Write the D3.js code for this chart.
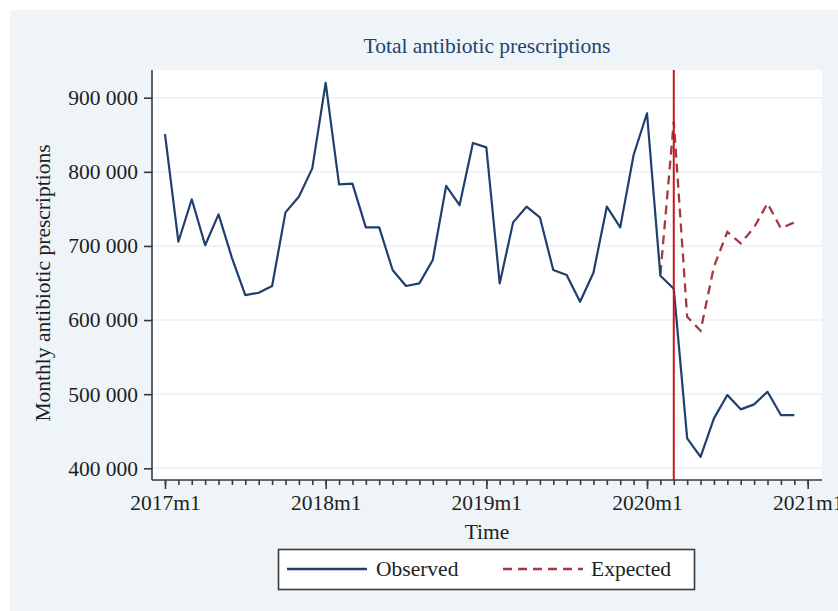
<!DOCTYPE html>
<html>
<head>
<meta charset="utf-8">
<script src="https://cdn.jsdelivr.net/npm/d3@7"></script>
<style>
  html, body { margin: 0; padding: 0; background: #fff; }
  text { font-family: "Liberation Serif", "DejaVu Serif", serif; }
</style>
</head>
<body>
<div class="chart"></div>
<script>
// chart data
var years = [2017, 2018, 2019, 2020];
var months = [];
years.forEach(function (y) {
  for (var m = 1; m <= 12; m++) months.push(y + "m" + m);
});
var xTickLabels = ["2017m1", "2018m1", "2019m1", "2020m1", "2021m1"];
var yTicks = [400000, 500000, 600000, 700000, 800000, 900000];

var observed = [
  851000, 705700, 763000, 701000, 742600, 684000, 633700, 636900, 646000, 745300, 766400, 804700,
  920000, 783000, 784000, 725000, 725000, 667500, 646000, 649500, 681000, 781000, 755000, 839000,
  833000, 649500, 731800, 753000, 738600, 667500, 660700, 624700, 663800, 753000, 725000, 822700,
  879000, 659800, 642200, 440400, 415500, 467300, 498800, 479500, 486200, 503200, 471800, 471800
];
var expectedStart = "2020m2";
var expected = [662000, 867600, 604500, 585600, 672000, 719000, 703500, 725000, 757500, 723700, 731800];
var interruption = "2020m3";

var svgWidth = 838;
var svgHeight = 611;
var plot = { left: 152, right: 822, top: 70, bottom: 480 };
var fontSize = "21.5px";

var svg = d3.select(".chart")
  .append("svg")
  .attr("width", svgWidth)
  .attr("height", svgHeight);

// graph background
svg.append("rect")
  .attr("x", 10).attr("y", 10)
  .attr("width", svgWidth - 10).attr("height", svgHeight - 10)
  .attr("fill", "#eef4f7");

svg.append("rect")
  .attr("x", plot.left).attr("y", plot.top)
  .attr("width", plot.right - plot.left).attr("height", plot.bottom - plot.top)
  .attr("fill", "#fff");

// scales
var x = d3.scaleLinear()
  .domain([-0.97, 49.07])
  .range([plot.left, plot.right]);

var y = d3.scaleLinear()
  .domain([384200, 937400])
  .range([plot.bottom, plot.top]);

var monthIndex = function (label) {
  var p = label.split("m");
  return (+p[0] - 2017) * 12 + (+p[1] - 1);
};

// grid lines
svg.append("g")
  .selectAll("line")
  .data(yTicks)
  .enter()
  .append("line")
  .attr("x1", plot.left).attr("x2", plot.right)
  .attr("y1", d => y(d)).attr("y2", d => y(d))
  .attr("stroke", "#eaf1f4")
  .attr("stroke-width", 1.5);

// y axis
var leftAxis = d3.axisLeft(y)
  .tickValues(yTicks)
  .tickSize(8)
  .tickPadding(6)
  .tickFormat(d => d3.format(",")(d).replace(/,/g, " "));

var yAxisG = svg.append("g")
  .attr("transform", `translate(${plot.left}, 0)`)
  .call(leftAxis);
yAxisG.select(".domain").attr("d", `M0,${plot.top}V${plot.bottom}`);

// x axis: minor monthly ticks, major yearly ticks
var minorAxis = d3.axisBottom(x)
  .tickValues(d3.range(0, 49))
  .tickSize(5)
  .tickFormat("");
var xMinorG = svg.append("g")
  .attr("transform", `translate(0, ${plot.bottom})`)
  .call(minorAxis);
xMinorG.select(".domain").attr("d", `M${plot.left},0H${plot.right}`);

var bottomAxis = d3.axisBottom(x)
  .tickValues(xTickLabels.map(monthIndex))
  .tickSize(9)
  .tickPadding(6)
  .tickFormat((d, i) => xTickLabels[i]);
var xAxisG = svg.append("g")
  .attr("transform", `translate(0, ${plot.bottom})`)
  .call(bottomAxis);
xAxisG.select(".domain").remove();

svg.selectAll(".domain, .tick line")
  .attr("stroke", "#3a3a3a")
  .attr("stroke-width", 1.6);
svg.selectAll(".tick text")
  .attr("fill", "#1e1e1e")
  .style("font-size", fontSize);

// series
var line = d3.line()
  .x(d => x(d.i))
  .y(d => y(d.v));

var obsData = observed.map((v, i) => ({ i: i, v: v }));
var s0 = monthIndex(expectedStart);
var expData = expected.map((v, i) => ({ i: s0 + i, v: v }));

svg.append("path")
  .datum(expData)
  .attr("d", line)
  .attr("fill", "none")
  .attr("stroke", "#a23b40")
  .attr("stroke-width", 2.3)
  .attr("stroke-dasharray", "9,6");

svg.append("path")
  .datum(obsData)
  .attr("d", line)
  .attr("fill", "none")
  .attr("stroke", "#1f3f6e")
  .attr("stroke-width", 2.2)
  .attr("stroke-linejoin", "round");

// interruption line
svg.append("line")
  .attr("x1", x(monthIndex(interruption))).attr("x2", x(monthIndex(interruption)))
  .attr("y1", plot.top).attr("y2", plot.bottom)
  .attr("stroke", "#c8161d")
  .attr("stroke-width", 2);

// titles
svg.append("text")
  .attr("x", (plot.left + plot.right) / 2)
  .attr("y", 53)
  .attr("text-anchor", "middle")
  .attr("fill", "#1f4370")
  .style("font-size", fontSize)
  .text("Total antibiotic prescriptions");

svg.append("text")
  .attr("transform", `translate(50, ${(plot.top + plot.bottom) / 2 + 8}) rotate(-90)`)
  .attr("text-anchor", "middle")
  .attr("fill", "#1e1e1e")
  .style("font-size", fontSize)
  .text("Monthly antibiotic prescriptions");

svg.append("text")
  .attr("x", 487)
  .attr("y", 539)
  .attr("text-anchor", "middle")
  .attr("fill", "#1e1e1e")
  .style("font-size", fontSize)
  .text("Time");

// legend
var legend = svg.append("g");
legend.append("rect")
  .attr("x", 278.5).attr("y", 549.5)
  .attr("width", 416).attr("height", 40)
  .attr("fill", "#fff")
  .attr("stroke", "#3a3a3a")
  .attr("stroke-width", 1.6);

var legendItems = [
  { label: "Observed", color: "#1f3f6e", dash: null, x0: 287, tx: 376 },
  { label: "Expected", color: "#a23b40", dash: "9,6", x0: 503, tx: 591 }
];
legendItems.forEach(function (d) {
  legend.append("line")
    .attr("x1", d.x0).attr("x2", d.x0 + 80)
    .attr("y1", 569).attr("y2", 569)
    .attr("stroke", d.color)
    .attr("stroke-width", 2.3)
    .attr("stroke-dasharray", d.dash);
  legend.append("text")
    .attr("x", d.tx).attr("y", 576)
    .attr("fill", "#1e1e1e")
    .style("font-size", fontSize)
    .text(d.label);
});
</script>
</body>
</html>
